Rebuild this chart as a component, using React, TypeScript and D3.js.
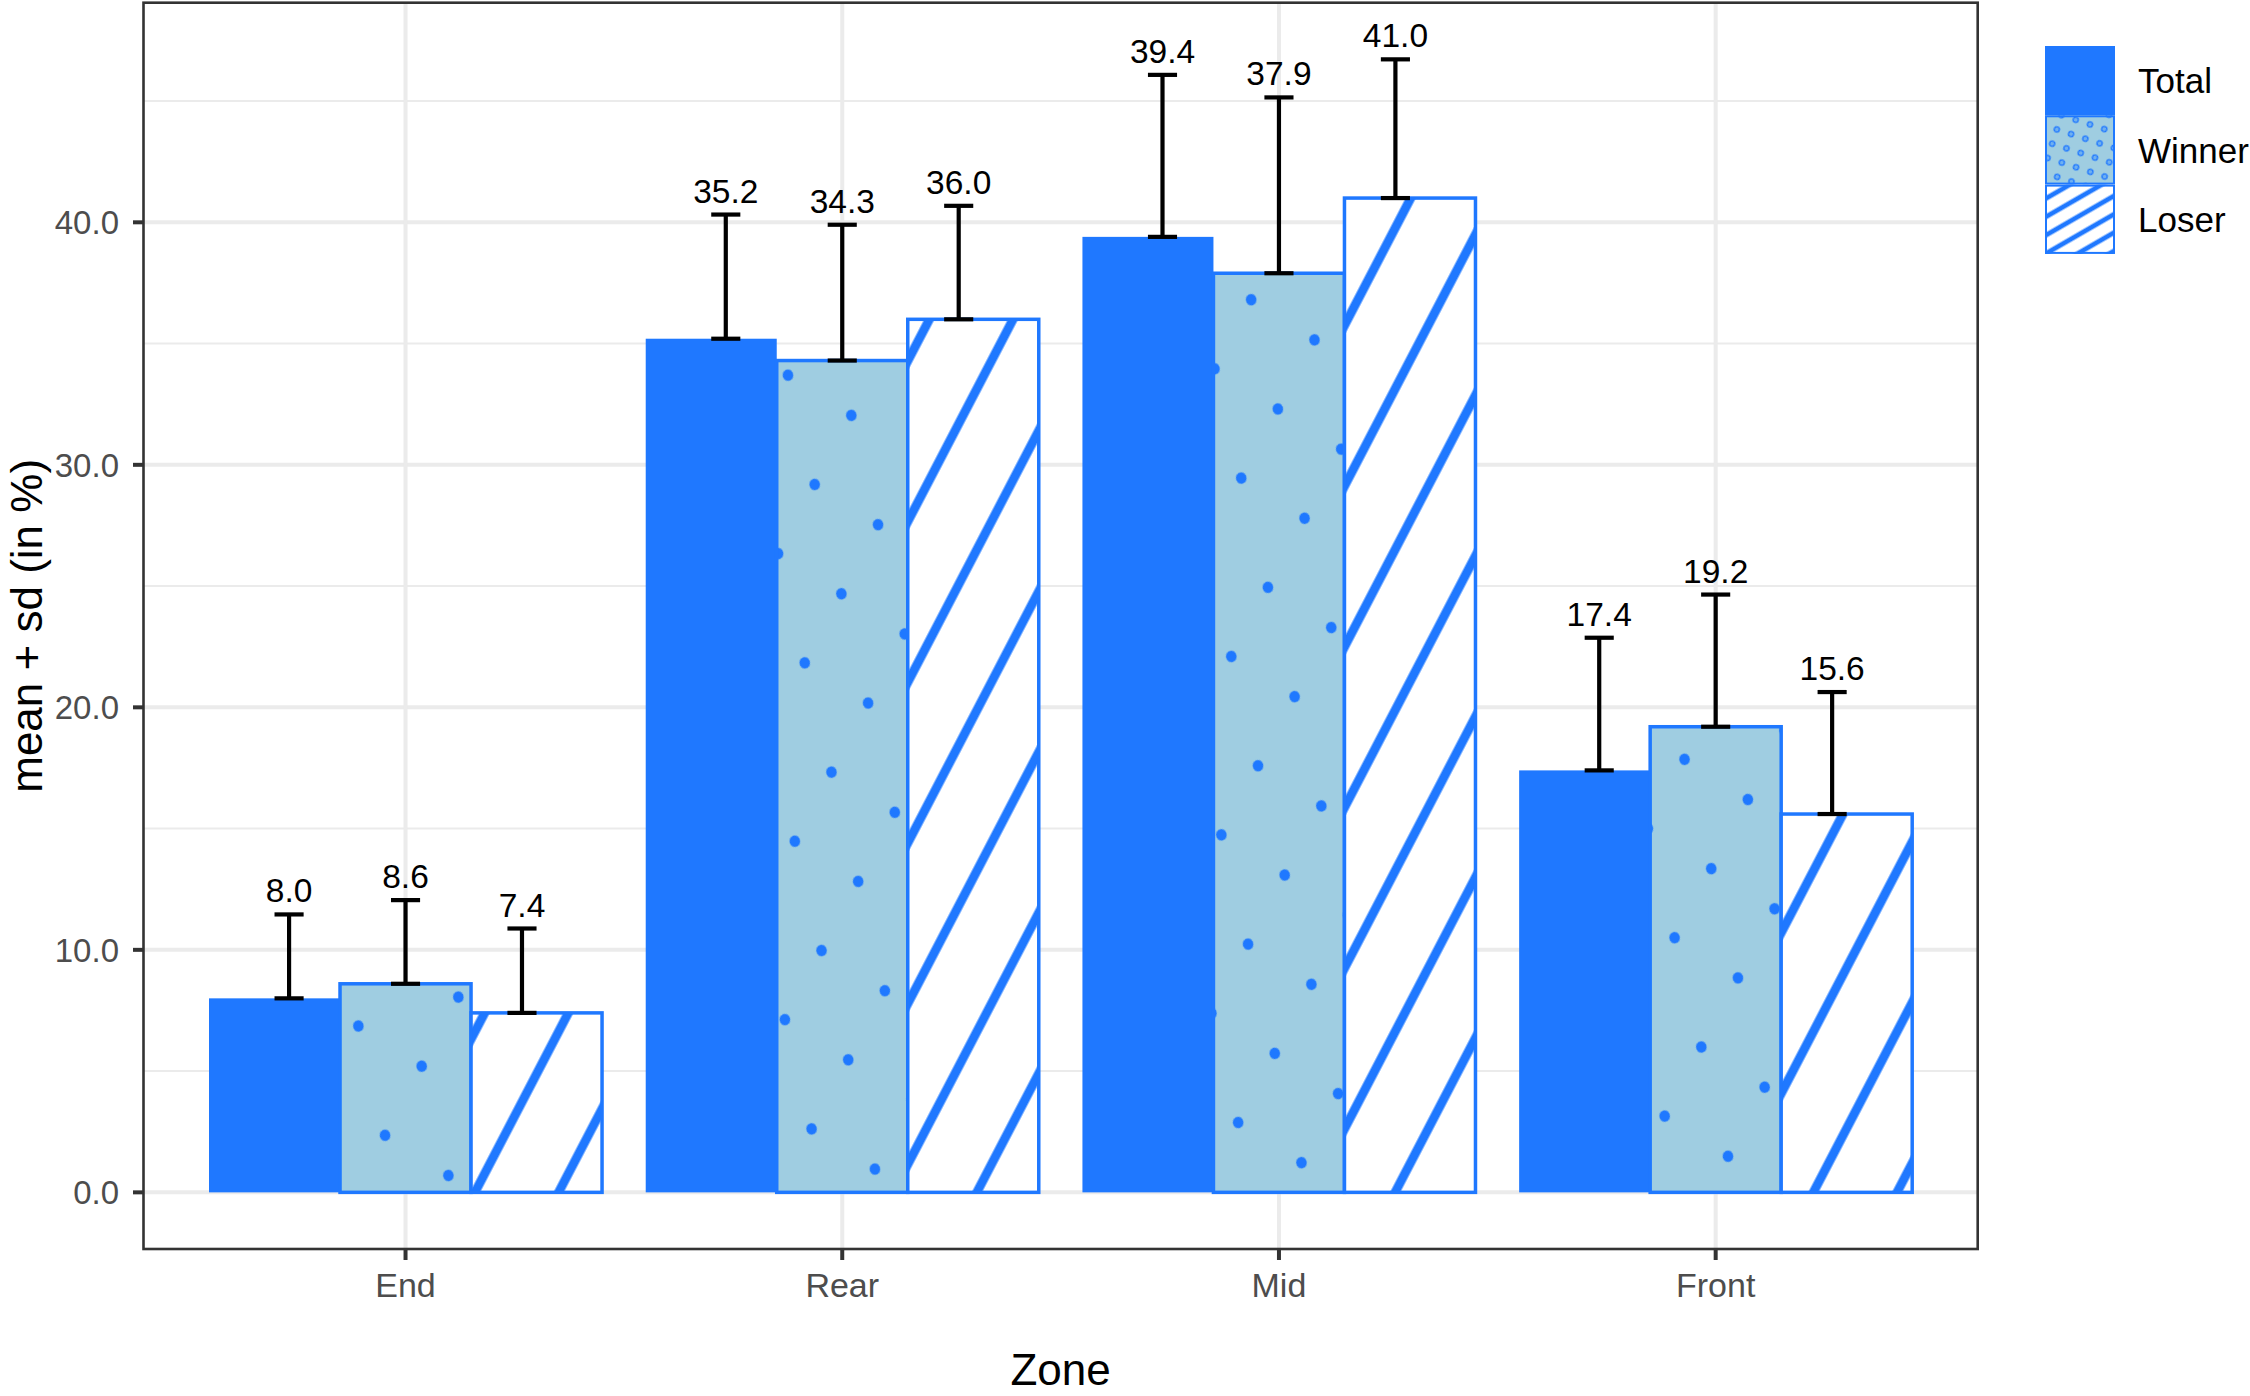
import { useEffect, useRef } from "react";
import * as d3 from "d3";

const zones = ["End", "Rear", "Mid", "Front"];
const groups = ["Total", "Winner", "Loser"];
const totalMean = [8.0, 35.2, 39.4, 17.4];
const totalSd = [3.46, 5.12, 6.68, 5.47];
const winnerMean = [8.6, 34.3, 37.9, 19.2];
const winnerSd = [3.45, 5.6, 7.25, 5.45];
const loserMean = [7.4, 36.0, 41.0, 15.6];
const loserSd = [3.48, 4.68, 5.72, 5.03];
const yTicks = [0, 10, 20, 30, 40];
const yMinor = [5, 15, 25, 35, 45];

const BLUE = "#1F78FF";
const LIGHT = "#9FCDE1";
const FONT = "'Liberation Sans', Arial, sans-serif";

const App = () => {
  const svgRef = useRef<SVGSVGElement | null>(null);

  useEffect(() => {
    if (!svgRef.current) return;
    const svg = d3.select(svgRef.current);
    svg.selectAll("*").remove();

    const W = 2250;
    const H = 1396;
    const panel = { left: 143.5, right: 1977.7, top: 2.7, bottom: 1249 };

    svg.attr("width", W).attr("height", H);
    svg.append("rect").attr("width", W).attr("height", H).attr("fill", "#fff");

    // patterns (dot lattice is slightly skewed, like the original)
    const defs = svg.append("defs");
    const S = 76;
    const va = [63.33, 40.18];
    const vc = [-36.63, 69.1];
    const dots = defs
      .append("pattern")
      .attr("id", "dots")
      .attr("patternUnits", "userSpaceOnUse")
      .attr("width", S)
      .attr("height", S)
      .attr(
        "patternTransform",
        `matrix(${va[0] / S},${va[1] / S},${vc[0] / S},${vc[1] / S},788,375.2)`
      );
    [
      [0, 0],
      [S, 0],
      [0, S],
      [S, S],
    ].forEach(([cx, cy]) => {
      dots.append("circle").attr("cx", cx).attr("cy", cy).attr("r", 5.6).attr("fill", BLUE);
    });

    const strS = 74.2;
    const stripes = defs
      .append("pattern")
      .attr("id", "stripes")
      .attr("patternUnits", "userSpaceOnUse")
      .attr("width", strS)
      .attr("height", strS)
      .attr("patternTransform", "translate(474.6,1193) rotate(27.5)");
    stripes.append("rect").attr("x", 0).attr("y", 0).attr("width", 4.5).attr("height", strS).attr("fill", BLUE);
    stripes.append("rect").attr("x", strS - 4.5).attr("y", 0).attr("width", 4.5).attr("height", strS).attr("fill", BLUE);

    // legend patterns
    const lDotS = 15;
    const lDots = defs
      .append("pattern")
      .attr("id", "ldots")
      .attr("patternUnits", "userSpaceOnUse")
      .attr("width", lDotS)
      .attr("height", lDotS)
      .attr("patternTransform", "translate(2052,120) rotate(18)");
    lDots
      .append("circle")
      .attr("cx", lDotS / 2)
      .attr("cy", lDotS / 2)
      .attr("r", 2.6)
      .attr("fill", "#6FB0F0")
      .attr("stroke", BLUE)
      .attr("stroke-width", 1.3);

    const lStrS = 15.9;
    const lStripes = defs
      .append("pattern")
      .attr("id", "lstripes")
      .attr("patternUnits", "userSpaceOnUse")
      .attr("width", lStrS)
      .attr("height", lStrS)
      .attr("patternTransform", "translate(2045,199) rotate(60)");
    lStripes.append("rect").attr("x", 0).attr("y", 0).attr("width", 2.4).attr("height", lStrS).attr("fill", BLUE);
    lStripes.append("rect").attr("x", lStrS - 2.4).attr("y", 0).attr("width", 2.4).attr("height", lStrS).attr("fill", BLUE);

    // scales
    const x = d3.scalePoint().domain(zones).range([panel.left, panel.right]).padding(0.6);
    const step = x.step();

    const rows = zones.flatMap((z, i) => [
      { zone: z, group: "Total", gi: 0, mean: totalMean[i], sd: totalSd[i] },
      { zone: z, group: "Winner", gi: 1, mean: winnerMean[i], sd: winnerSd[i] },
      { zone: z, group: "Loser", gi: 2, mean: loserMean[i], sd: loserSd[i] },
    ]);
    const yMax = d3.max(rows, (d) => d.mean + d.sd) as number;
    const y = d3
      .scaleLinear()
      .domain([-0.05 * yMax, yMax * 1.05])
      .range([panel.bottom, panel.top]);

    const barW = (0.9 / 3) * step;
    const barX = (d: any) => (x(d.zone) as number) + (d.gi - 1) * barW - barW / 2;
    const errX = (d: any) => (x(d.zone) as number) + (d.gi - 1) * (0.8 / 3) * step;
    const capW = (0.2 / 3) * step;

    // grid
    const grid = svg.append("g");
    grid
      .selectAll(".minor")
      .data(yMinor)
      .join("line")
      .attr("x1", panel.left)
      .attr("x2", panel.right)
      .attr("y1", (d) => y(d))
      .attr("y2", (d) => y(d))
      .attr("stroke", "#EBEBEB")
      .attr("stroke-width", 2);
    grid
      .selectAll(".major")
      .data(yTicks)
      .join("line")
      .attr("x1", panel.left)
      .attr("x2", panel.right)
      .attr("y1", (d) => y(d))
      .attr("y2", (d) => y(d))
      .attr("stroke", "#EBEBEB")
      .attr("stroke-width", 4);
    grid
      .selectAll(".vmajor")
      .data(zones)
      .join("line")
      .attr("x1", (d) => x(d) as number)
      .attr("x2", (d) => x(d) as number)
      .attr("y1", panel.top)
      .attr("y2", panel.bottom)
      .attr("stroke", "#EBEBEB")
      .attr("stroke-width", 4);

    // bars
    const bars = svg.append("g");
    rows.forEach((d) => {
      const bx = barX(d);
      const by = y(d.mean);
      const bh = y(0) - y(d.mean);
      if (d.gi === 0) {
        bars.append("rect").attr("x", bx).attr("y", by).attr("width", barW).attr("height", bh).attr("fill", BLUE);
      } else {
        bars
          .append("rect")
          .attr("x", bx)
          .attr("y", by)
          .attr("width", barW)
          .attr("height", bh)
          .attr("fill", d.gi === 1 ? LIGHT : "#fff");
        bars
          .append("rect")
          .attr("x", bx)
          .attr("y", by)
          .attr("width", barW)
          .attr("height", bh)
          .attr("fill", d.gi === 1 ? "url(#dots)" : "url(#stripes)");
        bars
          .append("rect")
          .attr("x", bx)
          .attr("y", by)
          .attr("width", barW)
          .attr("height", bh)
          .attr("fill", "none")
          .attr("stroke", BLUE)
          .attr("stroke-width", 3.5);
      }
    });

    // error bars
    const err = svg.append("g").attr("stroke", "#000").attr("stroke-width", 4.2);
    rows.forEach((d) => {
      const ex = errX(d);
      const y0 = y(d.mean);
      const y1 = y(d.mean + d.sd);
      err.append("line").attr("x1", ex).attr("x2", ex).attr("y1", y0).attr("y2", y1);
      err.append("line").attr("x1", ex - capW / 2).attr("x2", ex + capW / 2).attr("y1", y0).attr("y2", y0);
      err.append("line").attr("x1", ex - capW / 2).attr("x2", ex + capW / 2).attr("y1", y1).attr("y2", y1);
    });

    // value labels
    svg
      .append("g")
      .selectAll("text")
      .data(rows)
      .join("text")
      .attr("x", (d) => errX(d))
      .attr("y", (d) => y(d.mean + d.sd) - 12)
      .attr("text-anchor", "middle")
      .attr("font-family", FONT)
      .attr("font-size", 33.5)
      .attr("fill", "#000")
      .text((d) => d.mean.toFixed(1));

    // panel border
    svg
      .append("rect")
      .attr("x", panel.left)
      .attr("y", panel.top)
      .attr("width", panel.right - panel.left)
      .attr("height", panel.bottom - panel.top)
      .attr("fill", "none")
      .attr("stroke", "#333")
      .attr("stroke-width", 2.6);

    // y axis
    const yAxis = svg.append("g");
    yAxis
      .selectAll("line")
      .data(yTicks)
      .join("line")
      .attr("x1", panel.left - 10.5)
      .attr("x2", panel.left)
      .attr("y1", (d) => y(d))
      .attr("y2", (d) => y(d))
      .attr("stroke", "#333")
      .attr("stroke-width", 4);
    yAxis
      .selectAll("text")
      .data(yTicks)
      .join("text")
      .attr("x", 119)
      .attr("y", (d) => y(d))
      .attr("dy", "0.36em")
      .attr("text-anchor", "end")
      .attr("font-family", FONT)
      .attr("font-size", 33)
      .attr("fill", "#4D4D4D")
      .text((d) => d3.format(".1f")(d));

    // x axis
    const xAxis = svg.append("g");
    xAxis
      .selectAll("line")
      .data(zones)
      .join("line")
      .attr("x1", (d) => x(d) as number)
      .attr("x2", (d) => x(d) as number)
      .attr("y1", panel.bottom)
      .attr("y2", panel.bottom + 11)
      .attr("stroke", "#333")
      .attr("stroke-width", 4);
    xAxis
      .selectAll("text")
      .data(zones)
      .join("text")
      .attr("x", (d) => x(d) as number)
      .attr("y", 1297)
      .attr("text-anchor", "middle")
      .attr("font-family", FONT)
      .attr("font-size", 34)
      .attr("fill", "#4D4D4D")
      .text((d) => d);

    // axis titles
    svg
      .append("text")
      .attr("x", (panel.left + panel.right) / 2)
      .attr("y", 1385)
      .attr("text-anchor", "middle")
      .attr("font-family", FONT)
      .attr("font-size", 44)
      .attr("fill", "#000")
      .text("Zone");
    svg
      .append("text")
      .attr("transform", `translate(42,${(panel.top + panel.bottom) / 2}) rotate(-90)`)
      .attr("text-anchor", "middle")
      .attr("font-family", FONT)
      .attr("font-size", 44)
      .attr("fill", "#000")
      .text("mean + sd (in %)");

    // legend
    const key = 69.3;
    const lx = 2045;
    const ly = 46;
    const legend = svg.append("g");
    groups.forEach((g, i) => {
      const ky = ly + i * key;
      if (i === 0) {
        legend.append("rect").attr("x", lx).attr("y", ky).attr("width", 70).attr("height", key).attr("fill", BLUE);
      } else {
        legend
          .append("rect")
          .attr("x", lx)
          .attr("y", ky)
          .attr("width", 70)
          .attr("height", key)
          .attr("fill", i === 1 ? LIGHT : "#fff");
        legend
          .append("rect")
          .attr("x", lx)
          .attr("y", ky)
          .attr("width", 70)
          .attr("height", key)
          .attr("fill", i === 1 ? "url(#ldots)" : "url(#lstripes)");
        legend
          .append("rect")
          .attr("x", lx + 1)
          .attr("y", ky + 1)
          .attr("width", 68)
          .attr("height", key - 2)
          .attr("fill", "none")
          .attr("stroke", BLUE)
          .attr("stroke-width", 2);
      }
      legend
        .append("text")
        .attr("x", 2138)
        .attr("y", ky + key / 2)
        .attr("dy", "0.36em")
        .attr("font-family", FONT)
        .attr("font-size", 35)
        .attr("fill", "#000")
        .text(g);
    });
  }, []);

  return (
    <svg
      ref={svgRef}
      style={{ position: "absolute", left: 0, top: 0, display: "block" }}
    ></svg>
  );
};

export default App;
